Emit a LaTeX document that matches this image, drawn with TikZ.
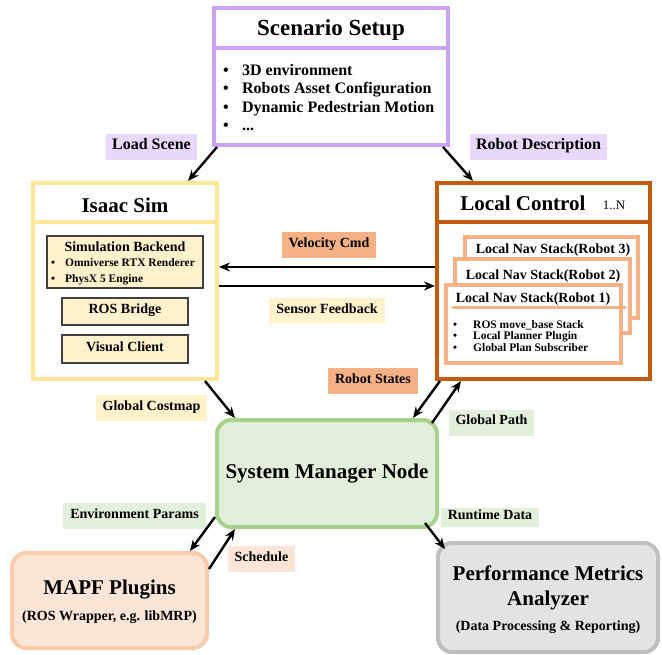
\documentclass[tikz,border=0pt]{standalone}
\usepackage{fontspec}
\setmainfont{Liberation Serif}
\usetikzlibrary{arrows.meta,positioning,calc}

\definecolor{scenLine}{HTML}{C9A2F5}
\definecolor{scenFill}{HTML}{E8D8FB}
\definecolor{isaacLine}{HTML}{FFE699}
\definecolor{isaacFill}{HTML}{FFF2CC}
\definecolor{localLine}{HTML}{C55A11}
\definecolor{navLine}{HTML}{F4B183}
\definecolor{sysLine}{HTML}{A9D18E}
\definecolor{sysFill}{HTML}{E2EFDA}
\definecolor{mapfLine}{HTML}{F8CBAD}
\definecolor{mapfFill}{HTML}{FBE5D6}
\definecolor{perfLine}{HTML}{BFBFBF}
\definecolor{perfFill}{HTML}{E3E3E3}

\tikzset{
  bigbox/.style={draw, line width=4pt, fill=white, inner sep=0pt},
  innerbox/.style={draw=black!75, line width=1.2pt, fill=isaacFill, inner sep=0pt,
    font=\fontsize{14}{16}\selectfont\bfseries, text height=0.68em, text depth=0.22em},
  navbox/.style={draw=navLine, line width=4pt, fill=white, inner sep=0pt},
  roundbox/.style={draw, line width=4pt, rounded corners=14pt, inner sep=0pt},
  tag/.style={inner xsep=7pt, inner ysep=0pt, minimum height=26pt,
    font=\fontsize{14}{16}\selectfont\bfseries, text height=0.68em, text depth=0.22em},
  bigtag/.style={tag, font=\fontsize{16}{18}\selectfont\bfseries, inner xsep=6pt},
  bigtitle/.style={inner sep=0pt, font=\fontsize{21}{24}\selectfont\bfseries},
  subtitle/.style={inner sep=0pt, font=\fontsize{14}{16}\selectfont\bfseries},
  item/.style={inner sep=0pt, anchor=base west, font=\fontsize{16}{18}\selectfont\bfseries},
  smallitem/.style={inner sep=0pt, anchor=base west, font=\fontsize{11.5}{13}\selectfont\bfseries},
  flow/.style={-{Stealth[length=11pt,width=9pt]}, line width=2.4pt},
}

\begin{document}
\begin{tikzpicture}[x=1pt, y=-1pt]
    \useasboundingbox (0,0) rectangle (662,654);

    % Scenario Setup
    \node[bigbox, draw=scenLine, minimum width=234pt, minimum height=137pt] (scen) at (331,76.5) {};
    \draw[scenLine, line width=4pt] ([yshift=-42pt]scen.north west) -- ([yshift=-42pt]scen.north east);
    \node[inner sep=0pt, anchor=base, font=\fontsize{23}{26}\selectfont\bfseries] (scentitle) at (331,35.5) {Scenario Setup};
    \node[item] (scen1) at (223,75) {\makebox[19pt][l]{\textbullet}3D environment};
    \node[item] (scen2) at (223,93.5) {\makebox[19pt][l]{\textbullet}Robots Asset Configuration};
    \node[item] (scen3) at (223,112) {\makebox[19pt][l]{\textbullet}Dynamic Pedestrian Motion};
    \node[item] (scen4) at (223,130.5) {\makebox[19pt][l]{\textbullet}...};

    % Isaac Sim
    \node[bigbox, draw=isaacLine, minimum width=184pt, minimum height=196pt] (isaac) at (125,281) {};
    \draw[isaacLine, line width=4pt] ([yshift=-41pt]isaac.north west) -- ([yshift=-41pt]isaac.north east);
    \node[bigtitle, anchor=base] (isaactitle) at (125,212) {Isaac Sim};
    \node[innerbox, minimum width=156pt, minimum height=52pt] (backend) at (125,262) {};
    \node[subtitle, anchor=base] (backendtitle) at (125,251.5) {Simulation Backend};
    \node[smallitem] (backend1) at (51,266) {\makebox[14pt][l]{\textbullet}Omniverse RTX Renderer};
    \node[smallitem] (backend2) at (51,282) {\makebox[14pt][l]{\textbullet}PhysX 5 Engine};
    \node[innerbox, minimum width=126pt, minimum height=27pt] (rosbridge) at (125,311.5) {ROS Bridge};
    \node[innerbox, minimum width=126pt, minimum height=28pt] (visual) at (125,349) {Visual Client};

    % Local Control
    \node[bigbox, draw=localLine, minimum width=213pt, minimum height=196pt] (local) at (543.5,281) {};
    \draw[localLine, line width=4pt] ([yshift=-41pt]local.north west) -- ([yshift=-41pt]local.north east);
    \node[bigtitle, anchor=base] (localtitle) at (523,210) {Local Control};
    \node[inner sep=0pt, anchor=base, font=\fontsize{13}{15}\selectfont] (localcount) at (614,209) {1..N};

    % Nav stacks, back to front
    \node[navbox, minimum width=173pt, minimum height=81pt] (nav3) at (551.5,277.5) {};
    \node[subtitle, anchor=base] (nav3title) at (553,253.5) {Local Nav Stack(Robot 3)};
    \node[navbox, minimum width=175pt, minimum height=74pt] (nav2) at (542.5,296) {};
    \node[subtitle, anchor=base] (nav2title) at (543,279.5) {Local Nav Stack(Robot 2)};
    \node[navbox, minimum width=175pt, minimum height=78pt] (nav1) at (533.5,324) {};
    \node[subtitle, anchor=base] (nav1title) at (533,302.5) {Local Nav Stack(Robot 1)};
    \draw[navLine, line width=3pt, line cap=round] ([xshift=9pt,yshift=-24pt]nav1.north west) -- ([xshift=2pt,yshift=-24pt]nav1.north east);
    \node[smallitem] (nav1a) at (453,328) {\makebox[20pt][l]{\textbullet}ROS move\_base Stack};
    \node[smallitem] (nav1b) at (453,339.5) {\makebox[20pt][l]{\textbullet}Local Planner Plugin};
    \node[smallitem] (nav1c) at (453,351) {\makebox[20pt][l]{\textbullet}Global Plan Subscriber};

    % System Manager
    \node[roundbox, draw=sysLine, fill=sysFill, minimum width=220pt, minimum height=107pt,
      font=\fontsize{21}{24}\selectfont\bfseries] (sysmgr) at (327,473.5) {System Manager Node};

    % MAPF Plugins
    \node[roundbox, draw=mapfLine, fill=mapfFill, minimum width=195pt, minimum height=95pt] (mapf) at (109.5,600.5) {};
    \node[bigtitle] (mapftitle) at (109.5,590) {MAPF Plugins};
    \node[subtitle] (mapfnote) at (109.5,617) {(ROS Wrapper, e.g. libMRP)};

    % Performance Metrics Analyzer
    \node[roundbox, draw=perfLine, fill=perfFill, minimum width=220pt, minimum height=109pt] (perf) at (548,597.5) {};
    \node[bigtitle] (perftitle1) at (548,573) {Performance Metrics};
    \node[bigtitle] (perftitle2) at (548,600) {Analyzer};
    \node[subtitle] (perfnote) at (548,627) {(Data Processing \& Reporting)};

    % Labels
    \node[bigtag, fill=scenFill] (lblscene) at (151.5,147) {Load Scene};
    \node[bigtag, fill=scenFill] (lblrobot) at (538.5,147) {Robot Description};
    \node[tag, fill=navLine] (lblvel) at (329,245) {Velocity Cmd};
    \node[tag, fill=isaacFill] (lblsensor) at (327,311) {Sensor Feedback};
    \node[tag, fill=navLine] (lblstates) at (373,381) {Robot States};
    \node[tag, fill=isaacFill] (lblcostmap) at (151.5,408) {Global Costmap};
    \node[tag, fill=sysFill] (lblpath) at (491.5,422.5) {Global Path};
    \node[tag, fill=sysFill] (lblenv) at (134.5,516) {Environment Params};
    \node[tag, fill=sysFill, minimum height=19pt] (lblruntime) at (490,517) {Runtime Data};
    \node[tag, fill=mapfFill] (lblsched) at (261.5,559) {Schedule};

    % Arrows
    \draw[flow] ([xshift=5pt]scen.south west) -- ([xshift=-31pt]isaac.north east);
    \draw[flow] ([xshift=-7pt]scen.south east) -- ([xshift=38pt]local.north west);
    \draw[flow] ([yshift=14pt]local.west) -- ([yshift=14pt]isaac.east);
    \draw[flow] ([yshift=-5pt]isaac.east) -- ([yshift=-5pt]local.west);
    \draw[flow] ([xshift=-14pt]isaac.south east) -- ([xshift=20pt]sysmgr.north west);
    \draw[flow] ([xshift=5pt]local.south west) -- ([xshift=-26pt]sysmgr.north east);
    \draw[flow] ([xshift=-7pt,yshift=-5pt]sysmgr.north east) -- ([xshift=26pt]local.south west);
    \draw[flow] ([yshift=12pt]sysmgr.south west) -- ([xshift=-19pt]mapf.north east);
    \draw[flow] ([yshift=-18pt]mapf.north east) -- ([xshift=20pt]sysmgr.south west);
    \draw[flow] ([xshift=-14pt,yshift=6pt]sysmgr.south east) -- ([xshift=9pt,yshift=-8pt]perf.north west);
\end{tikzpicture}
\end{document}
